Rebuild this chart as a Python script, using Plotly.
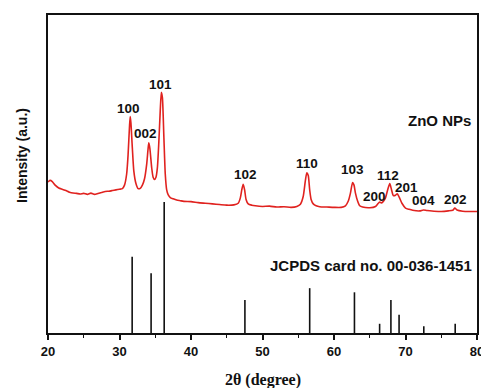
import plotly.graph_objects as go

# Measured XRD pattern of ZnO NPs (2theta, intensity in a.u.)
two_theta = [20.0, 20.3, 20.6, 21.0, 21.5, 22.0, 22.5, 23.0, 23.5, 24.0, 24.5, 25.0, 25.5, 26.0,
             26.5, 27.0, 27.5, 28.0, 28.5, 29.0, 29.5, 30.0, 30.4, 30.7, 31.0, 31.2, 31.4, 31.5,
             31.6, 31.8, 32.0, 32.3, 32.6, 32.9, 33.2, 33.5, 33.8, 34.0, 34.1, 34.25, 34.5, 34.7,
             34.9, 35.1, 35.3, 35.5, 35.7, 35.85, 36.0, 36.2, 36.4, 36.6, 36.8, 37.1, 37.5, 38.0,
             38.5, 39.0, 40.0, 41.0, 42.0, 43.0, 44.0, 45.0, 46.0, 46.6, 46.9, 47.1, 47.3, 47.5,
             47.7, 48.0, 48.5, 49.0, 50.0, 51.0, 52.0, 53.0, 54.0, 54.8, 55.3, 55.7, 56.0, 56.2,
             56.4, 56.6, 56.8, 57.1, 57.5, 58.0, 59.0, 60.0, 61.0, 61.6, 62.0, 62.3, 62.6, 62.8,
             63.0, 63.3, 63.6, 64.0, 65.0, 65.8, 66.2, 66.4, 66.6, 66.9, 67.2, 67.5, 67.8, 68.05,
             68.3, 68.6, 68.85, 69.1, 69.5, 70.0, 70.5, 71.0, 72.0, 72.5, 73.0, 74.0, 75.0, 76.0,
             76.6, 76.9, 77.2, 78.0, 79.0, 80.0]
intensity = [47.5, 48.0, 47.6, 46.5, 45.6, 45.2, 44.8, 44.3, 44.0, 43.9, 43.7, 43.9, 43.6, 44.0,
             43.6, 43.9, 44.2, 44.5, 44.6, 44.8, 45.0, 45.2, 45.4, 46.5, 50.0, 56.0, 65.0, 68.1,
             66.0, 58.0, 51.0, 47.0, 45.4, 45.5, 46.5, 48.5, 53.0, 58.0, 59.8, 58.0, 52.0, 49.0,
             48.3, 49.0, 52.0, 60.0, 70.0, 75.7, 74.0, 62.0, 50.0, 45.0, 43.5, 42.6, 42.2, 41.8,
             41.6, 41.4, 41.3, 41.0, 40.8, 40.6, 40.4, 40.2, 40.3, 40.8, 42.5, 45.0, 46.8, 45.0,
             42.0, 40.6, 40.2, 40.0, 39.8, 39.9, 39.6, 39.7, 39.5, 39.8, 40.5, 43.0, 48.0, 50.4,
             49.5, 45.0, 42.0, 40.6, 40.0, 39.7, 39.6, 39.5, 39.5, 40.0, 41.5, 44.0, 47.3, 46.5,
             44.0, 41.5, 40.0, 39.6, 39.4, 39.8, 40.8, 41.2, 40.9, 41.4, 42.5, 45.0, 47.0, 45.0,
             43.2, 43.3, 43.8, 42.8, 40.8, 39.3, 38.9, 38.6, 38.4, 38.7, 38.5, 38.3, 38.2, 38.4,
             38.6, 39.3, 38.7, 38.3, 38.2, 38.2]

# JCPDS 00-036-1451 reference lines
ref_pos = [31.77, 34.42, 36.25, 47.54, 56.60, 62.86, 66.38, 67.96, 69.10, 72.56, 76.95]
ref_height = [24.0, 18.8, 41.2, 10.4, 14.1, 12.8, 2.9, 10.4, 5.7, 2.1, 2.9]

# Peak (hkl) labels
hkl_labels = ["100", "002", "101", "102", "110", "103", "200", "112", "201", "004", "202"]
hkl_x = [31.3, 33.7, 35.8, 47.6, 56.2, 62.6, 65.7, 67.5, 70.2, 72.5, 77.0]
hkl_y = [70.7, 62.7, 78.0, 49.9, 53.2, 51.5, 42.8, 49.6, 45.9, 41.6, 41.9]

x_ticks = [20, 30, 40, 50, 60, 70, 80]

sans = "Liberation Sans, Arial, sans-serif"
serif = "Liberation Serif, Times New Roman, serif"

stick_x, stick_y = [], []
for p, h in zip(ref_pos, ref_height):
    stick_x += [p, p, None]
    stick_y += [0, h, None]

fig = go.Figure()
fig.add_trace(go.Scatter(x=stick_x, y=stick_y, mode="lines",
                         line=dict(color="#111111", width=1.6), hoverinfo="skip"))
fig.add_trace(go.Scatter(x=two_theta, y=intensity, mode="lines",
                         line=dict(color="#e0221f", width=1.6, shape="spline", smoothing=0.6)))

for t, x, y in zip(hkl_labels, hkl_x, hkl_y):
    fig.add_annotation(x=x, y=y, text=t, showarrow=False,
                       font=dict(family=sans, size=13.5, color="#111111", weight="bold"),
                       xanchor="center", yanchor="middle")

fig.add_annotation(x=79.4, y=66.9, text="ZnO NPs", showarrow=False, xanchor="right",
                   yanchor="middle", font=dict(family=sans, size=15, color="#111111", weight="bold"))
fig.add_annotation(x=79.6, y=21.25, text="JCPDS card no. 00-036-1451", showarrow=False,
                   xanchor="right", yanchor="middle",
                   font=dict(family=sans, size=15, color="#111111", weight="bold"))

fig.add_annotation(xref="paper", yref="paper", x=-0.059, y=0.559, text="Intensity (a.u.)",
                   textangle=-90, showarrow=False, xanchor="center", yanchor="middle",
                   font=dict(family=sans, size=14, color="#111111", weight="bold"))
fig.add_annotation(xref="paper", yref="paper", x=0.5, y=-0.147, text="2θ (degree)",
                   showarrow=False, xanchor="center", yanchor="middle",
                   font=dict(family=serif, size=16, color="#111111", weight="bold"))

# page has an 8px body margin, so the figure is sized to fit inside it
fig.update_layout(
    width=481, height=380,
    margin=dict(l=40, r=8, t=5, b=55),
    paper_bgcolor="white", plot_bgcolor="white",
    showlegend=False,
    xaxis=dict(range=[20, 80], tickvals=x_ticks, ticktext=[str(v) for v in x_ticks],
               ticks="outside", ticklen=5, tickwidth=1.6, tickcolor="#111111",
               minor=dict(ticks="outside", ticklen=3, tickwidth=1.4, tickcolor="#111111", dtick=5),
               showline=True, linecolor="#111111", linewidth=1.8, mirror=True,
               showgrid=False, zeroline=False,
               tickfont=dict(family=sans, size=13, color="#111111", weight="bold")),
    yaxis=dict(range=[0, 100], showticklabels=False, ticks="",
               showline=True, linecolor="#111111", linewidth=1.8, mirror=True,
               showgrid=False, zeroline=False),
)

fig.write_html("out.html")
